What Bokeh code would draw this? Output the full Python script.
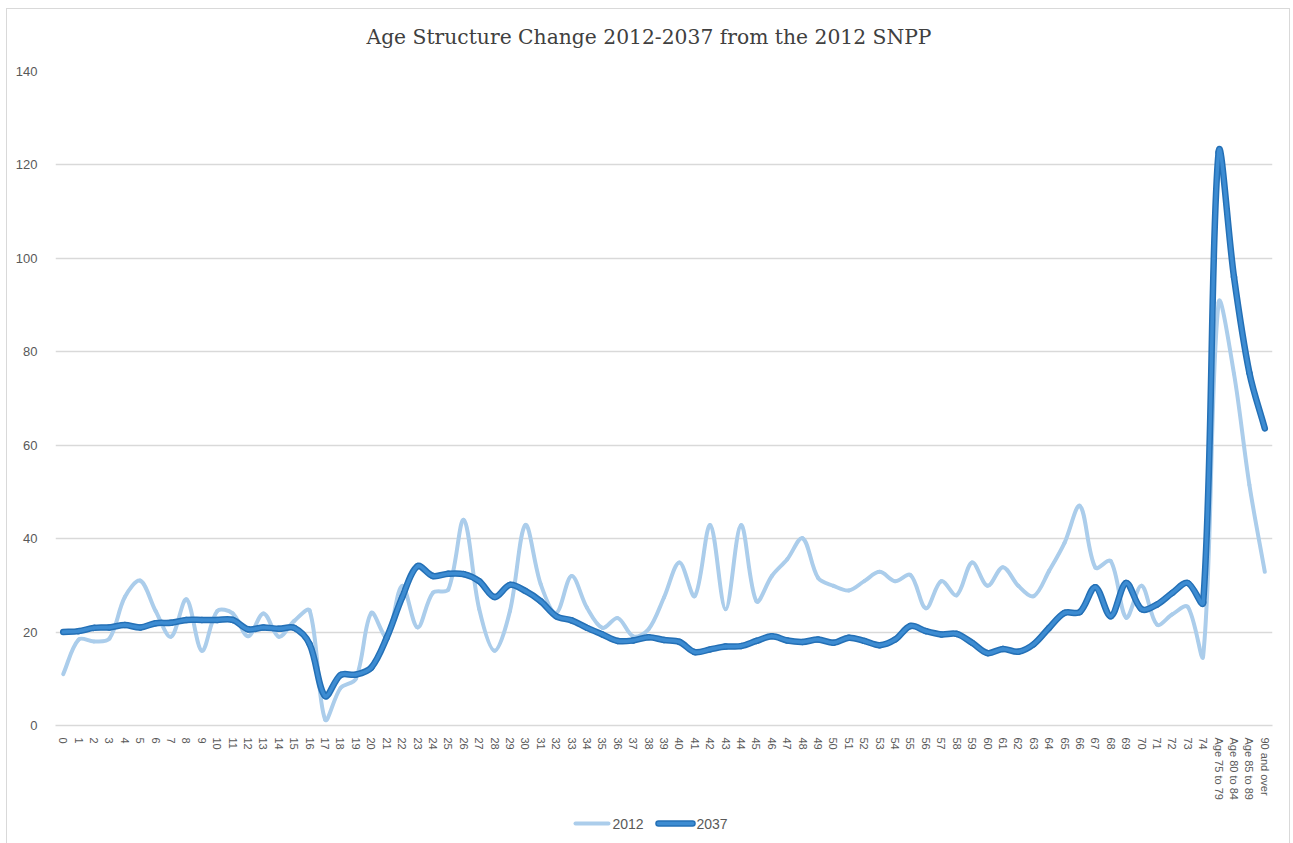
import numpy as np
from bokeh.plotting import figure
from bokeh.layouts import column
from bokeh.core.properties import value
from bokeh.models import FixedTicker, ColumnDataSource, Range1d, Label
from bokeh.embed import file_html
from bokeh.resources import INLINE

ages = [str(i) for i in range(75)] + ["Age 75 to 79", "Age 80 to 84", "Age 85 to 89", "90 and over"]

v2012 = [11, 18.4, 18, 18.6, 27.5, 31, 24.5, 19, 27, 16,
         24.5, 24, 19.1, 24, 19, 22.4, 24.6, 1.3, 8, 10,
         24.1, 19, 29.9, 21, 28.4, 29.1, 44, 25, 16, 24.5,
         42.9, 30.2, 24.1, 32, 25.2, 20.9, 23, 19.1, 20.6, 27.4,
         34.9, 27.7, 42.9, 24.9, 42.9, 26.6, 32, 35.6, 40.1, 31.6,
         29.9, 28.9, 30.9, 32.9, 30.9, 32.2, 25.1, 30.9, 27.9, 34.9,
         29.9, 33.9, 29.9, 27.7, 33.1, 39.1, 47, 33.8, 35.2, 23.1,
         29.9, 21.6, 23.8, 25.4, 14.9, 90.5, 75.3, 51.5, 32.9]

v2037 = [20, 20.2, 20.9, 21, 21.5, 21, 21.9, 22, 22.6, 22.6,
         22.6, 22.6, 20.6, 21, 20.7, 20.9, 17.4, 6.3, 10.8, 10.9,
         12.4, 18.8, 27.4, 34.1, 32, 32.5, 32.4, 30.9, 27.5, 30.1,
         28.8, 26.6, 23.4, 22.5, 20.9, 19.5, 18.1, 18.2, 18.9, 18.3,
         17.9, 15.7, 16.3, 16.9, 17, 18.1, 19.1, 18.2, 17.9, 18.4,
         17.7, 18.8, 18.1, 17.2, 18.4, 21.3, 20.2, 19.5, 19.6, 17.7,
         15.5, 16.4, 15.8, 17.4, 20.9, 24.1, 24.3, 29.6, 23.4, 30.5,
         24.9, 25.9, 28.4, 30.5, 26.3, 122.7, 96, 75.5, 63.6]

series_names = ["2012", "2037"]
y_ticks = [0, 20, 40, 60, 80, 100, 120, 140]
title_text = "Age Structure Change 2012-2037 from the 2012 SNPP"

TOTAL_W = 1282
FRAME_W, FRAME_H = 1217, 654
FRAME_LEFT_PX = 55          # page x of the plot area's left edge
Y_MAX = 140
TITLE_H, LEGEND_H = 52, 28
# screen aspect used only to weight the smoothing (px per data unit)
PX_X, PX_Y = FRAME_W / len(ages), FRAME_H / Y_MAX

LIGHT = "#abcdeb"
DARK_EDGE, DARK_CORE = "#2470b6", "#3d8cd2"


def smooth_segments(y):
    """Excel-like smoothed line: cubic Bezier segments through the data points,
    control distances weighted by neighbouring segment lengths."""
    x = np.arange(len(y), dtype=float)
    y = np.asarray(y, dtype=float)
    xp = np.concatenate([[x[0]], x, [x[-1]]])
    yp = np.concatenate([[y[0]], y, [y[-1]]])
    d = np.hypot(np.diff(xp) * PX_X, np.diff(yp) * PX_Y)
    n = len(y) - 1
    x0, y0 = x[:-1], y[:-1]
    x1, y1 = x[1:], y[1:]
    d01, d12, d23 = d[0:n], d[1:n + 1], d[2:n + 2]
    f1 = d12 / (3.0 * np.maximum(d01 + d12, 1e-9))
    f2 = d12 / (3.0 * np.maximum(d12 + d23, 1e-9))
    cx0 = x0 + (xp[2:n + 2] - xp[0:n]) * f1
    cy0 = y0 + (yp[2:n + 2] - yp[0:n]) * f1
    cx1 = x1 - (xp[3:n + 3] - xp[1:n + 1]) * f2
    cy1 = y1 - (yp[3:n + 3] - yp[1:n + 1]) * f2
    return ColumnDataSource(dict(x0=x0, y0=y0, x1=x1, y1=y1,
                                 cx0=cx0, cy0=cy0, cx1=cx1, cy1=cy1))


def blank_fig(height):
    # the column aligns this strip's frame with the chart's plot area,
    # so its x range is expressed in page pixels of that plot area
    f = figure(width=TOTAL_W, height=height, output_backend="svg", toolbar_location=None,
               x_range=Range1d(FRAME_LEFT_PX, FRAME_LEFT_PX + FRAME_W),
               y_range=Range1d(0, height),
               x_axis_type=None, y_axis_type=None,
               min_border_left=0, min_border_right=0, min_border_top=0, min_border_bottom=0)
    f.outline_line_color = None
    f.grid.grid_line_color = None
    return f


# ---- title strip ----
t = blank_fig(TITLE_H)
t.add_layout(Label(x=648.5, y=TITLE_H - 27, text=title_text,
                   text_align="center", text_baseline="middle",
                   text_font="DejaVu Serif", text_font_size="20.3px",
                   text_color="#404040"))

# ---- main chart ----
p = figure(frame_width=FRAME_W, frame_height=FRAME_H, output_backend="svg",
           toolbar_location=None,
           x_range=Range1d(-0.5, len(ages) - 0.5), y_range=Range1d(0, Y_MAX),
           min_border_left=48, min_border_right=17, min_border_top=10,
           min_border_bottom=84)

p.outline_line_color = None
p.xgrid.grid_line_color = None
p.ygrid.grid_line_color = "#d9d9d9"
p.ygrid.grid_line_width = 1.3
p.ygrid.ticker = FixedTicker(ticks=y_ticks)

p.yaxis.ticker = FixedTicker(ticks=y_ticks)
p.yaxis.axis_line_color = None
p.yaxis.major_tick_line_color = None
p.yaxis.minor_tick_line_color = None
p.yaxis.major_label_text_font = "Liberation Sans"
p.yaxis.major_label_text_font_size = "13px"
p.yaxis.major_label_text_color = "#595959"
p.yaxis.major_label_standoff = 12

p.xaxis.ticker = FixedTicker(ticks=list(range(len(ages))))
p.xaxis.major_label_overrides = {i: a for i, a in enumerate(ages)}
p.xaxis.major_label_orientation = "vertical"
p.xaxis.axis_line_color = "#d9d9d9"
p.xaxis.axis_line_width = 1.3
p.xaxis.major_tick_line_color = None
p.xaxis.minor_tick_line_color = None
p.xaxis.major_label_text_font = "Liberation Sans"
p.xaxis.major_label_text_font_size = "11px"
p.xaxis.major_label_text_color = "#595959"
p.xaxis.major_label_standoff = 6

src12 = smooth_segments(v2012)
src37 = smooth_segments(v2037)

bez = dict(x0="x0", y0="y0", x1="x1", y1="y1", cx0="cx0", cy0="cy0",
           cx1="cx1", cy1="cy1", line_cap="round", line_join="round")
p.bezier(source=src12, line_color=LIGHT, line_width=4, **bez)
p.bezier(source=src37, line_color=DARK_EDGE, line_width=6.5, **bez)
p.bezier(source=src37, line_color=DARK_CORE, line_width=3.5, **bez)

# ---- legend strip (keys + labels) ----
lg = blank_fig(LEGEND_H)
KEY_Y = LEGEND_H / 2
key_x0 = [575, 658]
key_x1 = [608, 692]
lg.segment(x0=key_x0, y0=[KEY_Y] * 2, x1=key_x1, y1=[KEY_Y] * 2,
           line_color=[LIGHT, DARK_EDGE], line_width=[4, 6.5], line_cap="round")
lg.segment(x0=key_x0[1:], y0=[KEY_Y], x1=key_x1[1:], y1=[KEY_Y],
           line_color=DARK_CORE, line_width=3.5, line_cap="round")
lg.text(x=[x + 4 for x in key_x1], y=[KEY_Y] * 2, text=series_names,
        text_baseline="middle", text_align="left",
        text_font=value("Liberation Sans"), text_font_size="14px",
        text_color="#595959")

layout = column(t, p, lg, spacing=0)
layout.styles = {"border": "1px solid #d9d9d9", "margin": "8px 0 0 6px",
                 "padding-bottom": "12px"}

open("out.html", "w").write(file_html(layout, INLINE))
